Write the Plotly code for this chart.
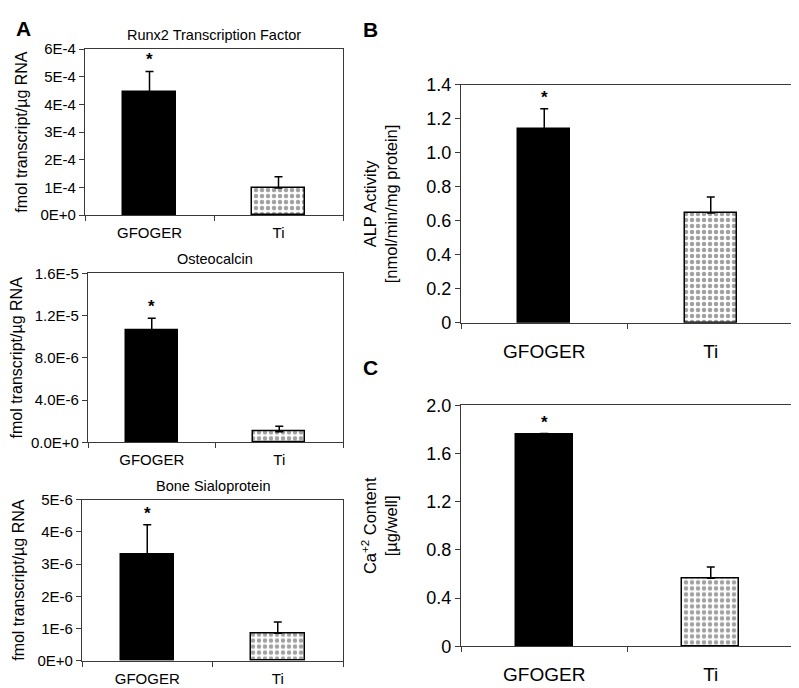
import plotly.graph_objects as go

W, H = 799, 688

categories = ["GFOGER", "Ti"]

runx2_vals = [4.43e-4, 0.98e-4]
runx2_err = [0.76e-4, 0.41e-4]
osteo_vals = [1.057e-5, 1.01e-6]
osteo_err = [1.17e-6, 0.52e-6]
bsp_vals = [3.29e-6, 0.85e-6]
bsp_err = [0.93e-6, 0.35e-6]
alp_vals = [1.14, 0.646]
alp_err = [0.12, 0.095]
ca_vals = [1.76, 0.565]
ca_err = [0.006, 0.093]

runx2_ticks = [0, 1e-4, 2e-4, 3e-4, 4e-4, 5e-4, 6e-4]
runx2_ticktext = ["0E+0", "1E-4", "2E-4", "3E-4", "4E-4", "5E-4", "6E-4"]
osteo_ticks = [0, 4e-6, 8e-6, 1.2e-5, 1.6e-5]
osteo_ticktext = ["0.0E+0", "4.0E-6", "8.0E-6", "1.2E-5", "1.6E-5"]
bsp_ticks = [0, 1e-6, 2e-6, 3e-6, 4e-6, 5e-6]
bsp_ticktext = ["0E+0", "1E-6", "2E-6", "3E-6", "4E-6", "5E-6"]
alp_ticks = [0, 0.2, 0.4, 0.6, 0.8, 1.0, 1.2, 1.4]
alp_ticktext = ["0", "0.2", "0.4", "0.6", "0.8", "1.0", "1.2", "1.4"]
ca_ticks = [0, 0.4, 0.8, 1.2, 1.6, 2.0]
ca_ticktext = ["0", "0.4", "0.8", "1.2", "1.6", "2.0"]

FONT = "Liberation Sans, Arial, Helvetica, sans-serif"

panels = [
    dict(vals=runx2_vals, err=runx2_err, ticks=runx2_ticks, ticktext=runx2_ticktext,
         rng=[0, 6e-4], title="Runx2 Transcription Factor",
         ytitle="fmol transcript/µg RNA", px=(77, 335), py=(32, 203),
         bw=0.41, tickfs=15, xfs=15, ytfs=16, standoff=8, xstand=4, titley=17),
    dict(vals=osteo_vals, err=osteo_err, ticks=osteo_ticks, ticktext=osteo_ticktext,
         rng=[0, 1.6e-5], title="Osteocalcin",
         ytitle="fmol transcript/µg RNA", px=(80, 335), py=(263, 437),
         bw=0.41, tickfs=15, xfs=15, ytfs=16, standoff=6, xstand=4, titley=248),
    dict(vals=bsp_vals, err=bsp_err, ticks=bsp_ticks, ticktext=bsp_ticktext,
         rng=[0, 5e-6], title="Bone Sialoprotein",
         ytitle="fmol transcript/µg RNA", px=(74, 335), py=(496, 662),
         bw=0.41, tickfs=15, xfs=15, ytfs=16, standoff=8, xstand=4, titley=482),
    dict(vals=alp_vals, err=alp_err, ticks=alp_ticks, ticktext=alp_ticktext,
         rng=[0, 1.4], title=None,
         ytitle="ALP Activity<br>[nmol/min/mg protein]", px=(453, 786), py=(69, 314),
         bw=0.31, tickfs=18, xfs=19, ytfs=16.5, standoff=24, xstand=11),
    dict(vals=ca_vals, err=ca_err, ticks=ca_ticks, ticktext=ca_ticktext,
         rng=[0, 2.0], title=None,
         ytitle="Ca<sup>+2</sup> Content<br>[µg/well]", px=(453, 786), py=(399, 647),
         bw=0.345, tickfs=18, xfs=19, ytfs=16.5, standoff=24, xstand=11),
]

fig = go.Figure()
annotations = []
AX = "#3a3a3a"

for i, p in enumerate(panels, start=1):
    xa = "x" if i == 1 else f"x{i}"
    ya = "y" if i == 1 else f"y{i}"
    fig.add_trace(go.Bar(
        x=categories, y=p["vals"], xaxis=xa, yaxis=ya, width=p["bw"],
        marker=dict(color=["black", "white"],
                    line=dict(color="black", width=1.5),
                    pattern=dict(shape=["", "."], fgcolor="black", bgcolor="white",
                                 size=6, solidity=0.45, fillmode="overlay")),
        error_y=dict(type="data", symmetric=False, array=p["err"], arrayminus=[0, 0],
                     color="black", thickness=1.5, width=4),
        showlegend=False, hoverinfo="skip",
    ))
    xd = [p["px"][0] / W, p["px"][1] / W]
    yd = [1 - p["py"][1] / H, 1 - p["py"][0] / H]
    key = "" if i == 1 else str(i)
    fig.update_layout(**{
        f"xaxis{key}": dict(domain=xd, anchor=ya, type="category",
                            showline=True, linecolor=AX, linewidth=1.2, mirror=True,
                            ticks="outside", tickson="boundaries", ticklen=5,
                            tickcolor=AX, tickwidth=1.2,
                            ticklabelstandoff=p["xstand"],
                            tickfont=dict(family=FONT, size=p["xfs"], color="black"),
                            showgrid=False, zeroline=False, fixedrange=True),
        f"yaxis{key}": dict(domain=yd, anchor=xa, range=p["rng"],
                            tickvals=p["ticks"], ticktext=p["ticktext"],
                            showline=True, linecolor=AX, linewidth=1.2, mirror=True,
                            ticks="outside", ticklen=5, tickcolor=AX, tickwidth=1.2,
                            tickfont=dict(family=FONT, size=p["tickfs"], color="black"),
                            title=dict(text=p["ytitle"], standoff=p["standoff"],
                                       font=dict(family=FONT, size=p["ytfs"], color="black")),
                            showgrid=False, zeroline=False, fixedrange=True),
    })
    # significance star above GFOGER
    annotations.append(dict(x=categories[0], y=p["vals"][0] + p["err"][0],
                            xref=xa, yref=ya, text="<b>*</b>", showarrow=False,
                            yanchor="bottom", yshift=0,
                            font=dict(family=FONT, size=17, color="black")))
    if p["title"]:
        annotations.append(dict(x=(xd[0] + xd[1]) / 2, y=1 - p["titley"] / H,
                                xref="paper", yref="paper", text=p["title"],
                                showarrow=False, xanchor="center", yanchor="middle",
                                font=dict(family=FONT, size=14.5, color="black")))

for letter, lx, ly in [("A", 15, 11), ("B", 362, 12), ("C", 362, 360)]:
    annotations.append(dict(x=lx / W, y=1 - ly / H, xref="paper", yref="paper",
                            text=f"<b>{letter}</b>", showarrow=False,
                            xanchor="center", yanchor="middle",
                            font=dict(family=FONT, size=21, color="black")))

fig.update_layout(width=W, height=H, margin=dict(l=0, r=0, t=0, b=0),
                  paper_bgcolor="white", plot_bgcolor="white",
                  annotations=annotations, bargap=0)

fig.write_html("out.html")
